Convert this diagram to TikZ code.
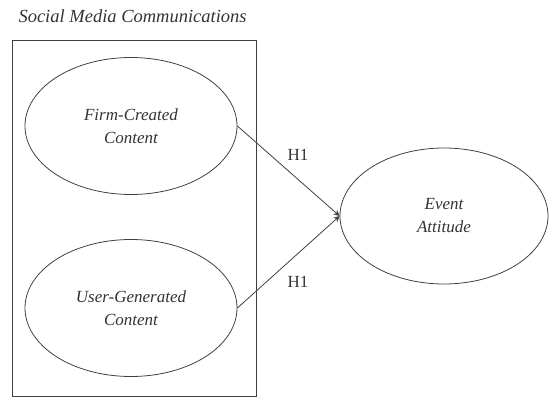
\documentclass[tikz,border=0pt]{standalone}
\usepackage{fontspec}
\setmainfont{Liberation Serif}
\usetikzlibrary{shapes.geometric,arrows.meta}
\begin{document}
\begin{tikzpicture}[x=1pt,y=-1pt,
  construct/.style={ellipse,draw=black!75,line width=0.8pt,minimum width=212pt,minimum height=137pt,inner sep=0pt,
    align=center,font=\fontsize{17}{23}\selectfont\itshape,text=black!80},
  path/.style={draw=black!75,line width=0.8pt,-{Stealth[length=6pt,width=6pt]}},
  hyp/.style={font=\fontsize{17}{20}\selectfont,text=black!80}]
  \useasboundingbox (0,0) rectangle (550,399);
  % grouping box for the two communication sources
  \node[font=\fontsize{18.5}{22}\selectfont\itshape,text=black!80,anchor=west] (title) at (15,16) {Social Media Communications};
  \node[draw=black!75,line width=0.8pt,minimum width=244pt,minimum height=356pt,inner sep=0pt] (group) at (134,218) {};
  \node[construct] (fcc) at (131,126) {Firm-Created\\Content};
  \node[construct] (ugc) at (131,308) {User-Generated\\Content};
  \node[construct,minimum width=208pt,minimum height=136pt] (att) at (444,216) {Event\\Attitude};
  \draw[path] (fcc.east) -- (att.west);
  \draw[path] (ugc.east) -- (att.west);
  \node[hyp] (h1a) at (298,155) {H1};
  \node[hyp] (h1b) at (298,282) {H1};
\end{tikzpicture}
\end{document}
